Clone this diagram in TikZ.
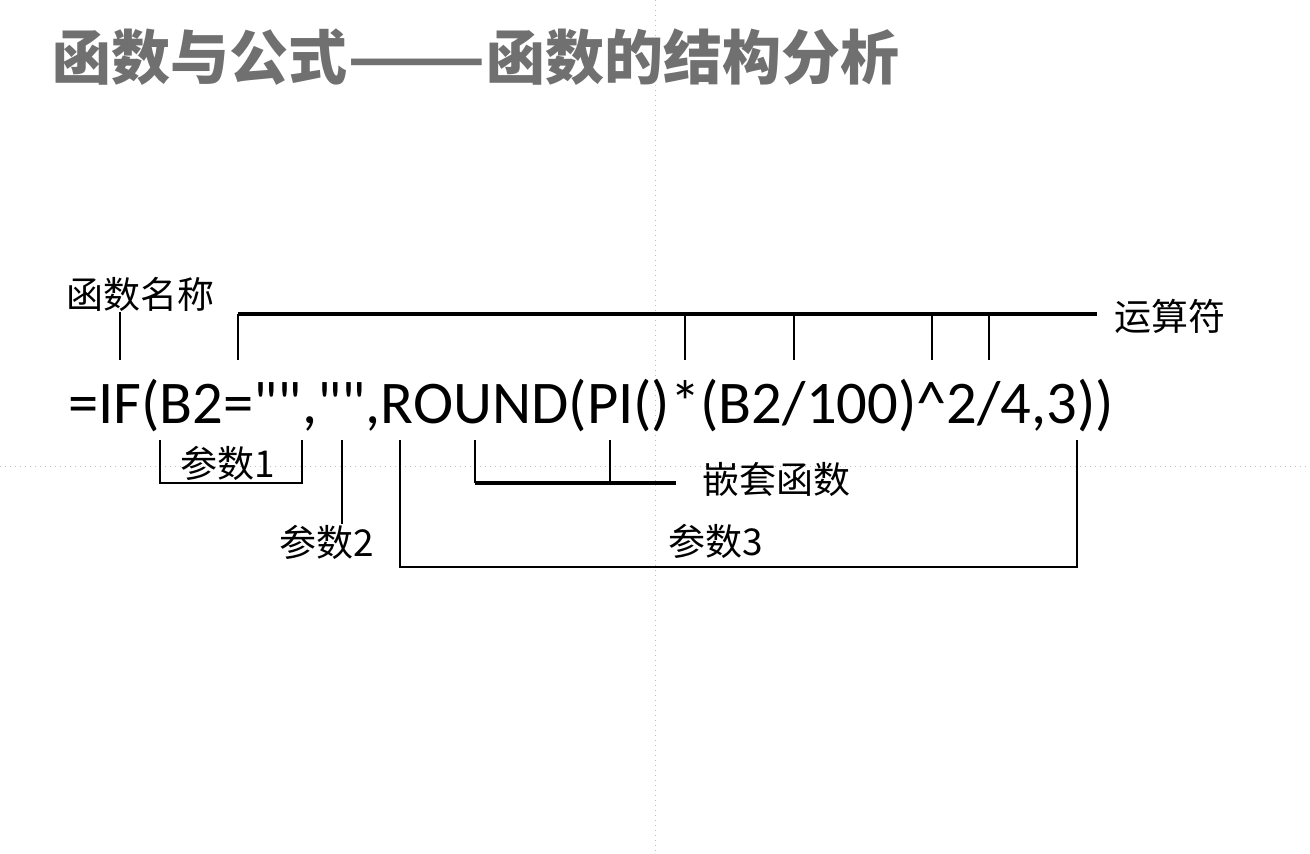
\documentclass[tikz,border=0pt]{standalone}
\usepackage{graphicx}
\usepackage{fontspec}
\setmainfont{Carlito}
\newfontfamily\cjk{Noto Sans CJK SC}
\usetikzlibrary{calc}
\definecolor{titlegray}{RGB}{112,112,112}
\newcommand{\qq}{\textquotedbl\textquotedbl}

\begin{document}
\begin{tikzpicture}[x=0.5pt, y=-0.5pt,
   fx/.style = {inner sep=0pt, outer sep=0pt, anchor=base west,
                font=\fontsize{30.3}{36}\selectfont},
  lbl/.style = {inner sep=0pt, font=\cjk\fontsize{18.5}{20}\selectfont},
 tick/.style = {line width=1pt},
  bar/.style = {line width=2pt},
guide/.style = {black!25, dotted, line width=0.5pt}
                    ]
\fill[white] (0,0) rectangle (1310,854);
\useasboundingbox (0,0) rectangle (1310,854);
% guides
\draw[guide] (655,0) -- (655,854);
\draw[guide] (0,467) -- (1310,467);
% title
\node[inner sep=0pt, anchor=west, text=titlegray,
      font=\cjk\bfseries\fontsize{29.5}{32}\selectfont] (title) at (52,57)
     {函数与公式\scalebox{1.37}[1]{——}函数的结构分析};
% formula, piece by piece
\node[fx] (fa) at (68,424) {=};
\node[fx] (fb) at (fa.base east) {IF};
\node[fx] (fc) at (fb.base east) {(};
\node[fx] (fd) at (fc.base east) {B2};
\node[fx] (fe) at (fd.base east) {=};
\node[fx] (ff) at (fe.base east) {\qq};
\node[fx] (fg) at (ff.base east) {,};
\node[fx] (fh) at (fg.base east) {\qq};
\node[fx] (fi) at (fh.base east) {,};
\node[fx] (fj) at (fi.base east) {ROUND};
\node[fx] (fk) at (fj.base east) {(};
\node[fx] (fl) at (fk.base east) {PI};
\node[fx] (fm) at (fl.base east) {()};
\node[fx] (fn) at (fm.base east) {*};
\node[fx] (fo) at (fn.base east) {(B2};
\node[fx] (fp) at (fo.base east) {/};
\node[fx] (fq) at (fp.base east) {100)};
\node[fx] (fr) at (fq.base east) {\textasciicircum};
\node[fx] (fs) at (fr.base east) {2};
\node[fx] (ft) at (fs.base east) {/};
\node[fx] (fu) at (ft.base east) {4,3};
\node[fx] (fv) at (fu.base east) {))};
% labels
\node[lbl] (fname) at (140,294) {函数名称};
\node[lbl] (ops)   at (1170,316) {运算符};
\node[lbl] (arg1)  at (228,463) {参数1};
\node[lbl] (arg2)  at (327,542) {参数2};
\node[lbl] (arg3)  at (716,541) {参数3};
\node[lbl] (nest)  at (776,479) {嵌套函数};
% bracket levels
\coordinate (opbar)   at (0,314);
\coordinate (optip)   at (0,360);
\coordinate (argtip)  at (0,440);
\coordinate (nestbar) at (0,483);
\coordinate (arg3bar) at (0,567);
\coordinate (opend)   at (1097,314);
\coordinate (nestend) at (676,483);
\coordinate (rstem)   at ($(fj.west)!0.1!(fj.east)$);
% function name
\draw[tick] (fb |- optip) -- (fb |- fname.south);
% operators
\draw[bar] (fe |- opbar) -- (opend);
\foreach \c in {fe,fn,fp,fr,ft}
    \draw[tick] (\c |- optip) -- (\c |- opbar);
% arguments
\draw[tick] (fd.west |- argtip) -- (fd.west |- nestbar) -- (ff.east |- nestbar) -- (ff.east |- argtip);
\draw[tick] (fh |- argtip) -- (fh |- arg2.north);
\draw[tick] (rstem |- argtip) -- (rstem |- arg3bar) -- (fv.west |- arg3bar) -- (fv.west |- argtip);
% nested function
\draw[tick] (fj |- argtip) -- (fj |- nestbar);
\draw[tick] (fl |- argtip) -- (fl |- nestbar);
\draw[bar] (fj |- nestbar) -- (nestend);
\end{tikzpicture}
\end{document}
